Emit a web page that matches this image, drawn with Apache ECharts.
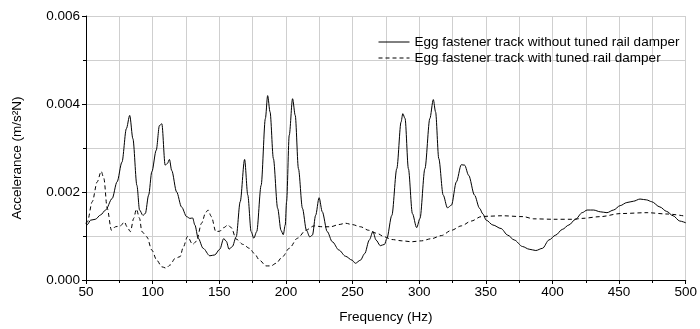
<!DOCTYPE html>
<html>
<head>
<meta charset="utf-8">
<script src="https://cdn.jsdelivr.net/npm/echarts@6/dist/echarts.min.js"></script>
<style>
  html, body { margin: 0; padding: 0; background: #fff; }
  #chart { width: 700px; height: 329px; }
</style>
</head>
<body>
<div id="chart"></div>
<script>
// Frequency response of the rail, with and without the tuned rail damper.
var seriesNames = [
  'Egg fastener track without tuned rail damper',
  'Egg fastener track with tuned rail damper'
];

// Without damper: frequency (Hz) and accelerance (m/s²N)
var freqWithout = [
  50, 51, 53.5, 57, 61, 64.7, 69.6, 73.3, 77, 80.3, 82.8, 85.2, 88.2, 90.2, 92.7, 94.5,
  97, 99.4, 102.7, 105.1, 106.9, 109.4, 111.1, 112.6, 114.3, 118, 121.7, 125.5, 128, 130,
  131.7, 134.2, 137.9, 142.9, 146.6, 150.4, 153.3, 155.3, 157.3, 159.8, 162.7, 165.7, 169,
  171.4, 173.9, 175.9, 178.1, 181.4, 184.6, 186.3, 188.1, 190.6, 193.8, 196.3, 198, 199.5,
  200.5, 202.5, 205, 207, 209.4, 212.4, 215.4, 217.9, 219.9, 222.3, 224.9, 227.3, 231,
  234.8, 239.8, 244.7, 249.7, 252.1, 255.9, 259.1, 262.6, 265.3, 267.6, 270.8, 274, 275.7,
  279.5, 283.2, 286.4, 287.7, 289.4, 291.9, 294.9, 298.1, 300.6, 304.3, 308, 310.6, 312.3,
  314.7, 318, 321.2, 324.2, 327.9, 331.6, 334.1, 337.1, 341.5, 345.3, 347.8, 350.3, 355.3,
  361.4, 366.4, 371.3, 377.6, 382.5, 387.5, 392.5, 397.4, 402.4, 407.4, 412.3, 417.3, 422.3,
  426, 430.9, 435.9, 440.9, 445.8, 450.8, 455.8, 460.7, 465.7, 470.7, 474.4, 480.6, 485.6,
  490.5, 495.5, 500
];
var accelWithout = [
  0.00130, 0.00126, 0.00136, 0.00138, 0.00148, 0.00159, 0.00185, 0.00223, 0.00268, 0.00344,
  0.00374, 0.00321, 0.00215, 0.00159, 0.00147, 0.00151, 0.00193, 0.00246, 0.00295, 0.00351,
  0.00355, 0.00261, 0.00265, 0.00274, 0.00249, 0.00200, 0.00166, 0.00144, 0.00140, 0.00141,
  0.00125, 0.00095, 0.00072, 0.00055, 0.00057, 0.00070, 0.00094, 0.00088, 0.00070, 0.00076,
  0.00098, 0.00178, 0.00274, 0.00193, 0.00110, 0.00095, 0.00110, 0.00215, 0.00367, 0.00419,
  0.00382, 0.00276, 0.00163, 0.00113, 0.00103, 0.00125, 0.00178, 0.00329, 0.00412, 0.00374,
  0.00253, 0.00163, 0.00113, 0.00098, 0.00102, 0.00147, 0.00187, 0.00155, 0.00110, 0.00087,
  0.00068, 0.00054, 0.00045, 0.00038, 0.00045, 0.00060, 0.00091, 0.00110, 0.00091, 0.00078,
  0.00081, 0.00094, 0.00147, 0.00253, 0.00359, 0.00378, 0.00367, 0.00253, 0.00151, 0.00119,
  0.00140, 0.00253, 0.00367, 0.00410, 0.00382, 0.00276, 0.00193, 0.00164, 0.00170, 0.00223,
  0.00262, 0.00261, 0.00238, 0.00193, 0.00163, 0.00150, 0.00136, 0.00125, 0.00117, 0.00102,
  0.00091, 0.00076, 0.00070, 0.00067, 0.00072, 0.00091, 0.00102, 0.00115, 0.00125, 0.00138,
  0.00153, 0.00159, 0.00159, 0.00155, 0.00153, 0.00159, 0.00169, 0.00176, 0.00179, 0.00184,
  0.00182, 0.00178, 0.00166, 0.00156, 0.00146, 0.00134, 0.00130
];

// With damper
var freqWith = [
  50, 51, 54.7, 58.4, 61.4, 63.4, 65.9, 69.1, 72.1, 75.8, 78.8, 80.8, 83.3, 85.8, 87.8,
  90.2, 91.9, 95.7, 99.4, 103.1, 106.9, 110.1, 113.1, 116.8, 120.6, 123, 126.2, 130, 132.9,
  136.7, 139.9, 141.6, 144.1, 147.4, 150.4, 153.3, 156.5, 159, 162.7, 167.7, 172.7, 176.4,
  180.2, 185.1, 188.8, 192.6, 197.5, 202.5, 208.7, 214.9, 221.1, 227.3, 233.5, 239.8, 244.7,
  249.7, 255.9, 262.1, 268.3, 274, 279.5, 287, 294.4, 301.8, 309.3, 316.7, 324.2, 331.6,
  339.1, 346.5, 352, 362, 378, 386, 401, 416, 422, 436, 451, 471, 486, 500
];
var accelWith = [
  0.00128, 0.00132, 0.00178, 0.00223, 0.00247, 0.00231, 0.00163, 0.00113, 0.00121, 0.00123,
  0.00132, 0.00121, 0.00110, 0.00140, 0.00161, 0.00140, 0.00110, 0.00098, 0.00068, 0.00045,
  0.00030, 0.00027, 0.00034, 0.00049, 0.00053, 0.00075, 0.00099, 0.00081, 0.00088, 0.00129,
  0.00154, 0.00159, 0.00144, 0.00110, 0.00111, 0.00119, 0.00125, 0.00119, 0.00093, 0.00081,
  0.00072, 0.00060, 0.00045, 0.00032, 0.00032, 0.00038, 0.00053, 0.00072, 0.00095, 0.00113,
  0.00123, 0.00121, 0.00121, 0.00126, 0.00129, 0.00126, 0.00121, 0.00113, 0.00106, 0.00098,
  0.00092, 0.00089, 0.00087, 0.00089, 0.00094, 0.00101, 0.00113, 0.00123, 0.00134, 0.00144,
  0.00145, 0.00146, 0.00144, 0.00139, 0.00138, 0.00138, 0.00140, 0.00144, 0.00151, 0.00153,
  0.00150, 0.00145
];

function pairs(xs, ys) {
  return xs.map(function (x, i) { return [x, ys[i]]; });
}

var FONT = '"Liberation Sans", Arial, sans-serif';
var gridLine = { show: true, lineStyle: { color: '#cfcfcf', width: 1 } };
var DASH = [4, 3];

var chart = echarts.init(document.getElementById('chart'), null, { renderer: 'canvas' });
chart.setOption({
  animation: false,
  backgroundColor: '#ffffff',
  textStyle: { fontFamily: FONT },
  grid: { left: 86, right: 10, top: 16, bottom: 49, containLabel: false },
  legend: {
    orient: 'vertical',
    left: 378,
    top: 35,
    padding: 0,
    itemGap: 2,
    itemWidth: 31,
    itemHeight: 14,
    itemStyle: { opacity: 0 },
    lineStyle: { width: 1 },
    textStyle: { fontFamily: FONT, fontSize: 13.5, color: '#000' },
    data: seriesNames
  },
  xAxis: {
    type: 'value',
    min: 50,
    max: 500,
    interval: 50,
    name: 'Frequency (Hz)',
    nameLocation: 'middle',
    nameGap: 30,
    nameTextStyle: { fontFamily: FONT, fontSize: 13.5, color: '#000' },
    axisLine: { show: true, lineStyle: { color: '#000', width: 1 } },
    axisTick: { show: true, length: 4, lineStyle: { color: '#000' } },
    minorTick: { show: true, splitNumber: 2, length: 3, lineStyle: { color: '#000' } },
    axisLabel: { fontFamily: FONT, fontSize: 13.5, color: '#000', margin: 5 },
    splitLine: gridLine,
    minorSplitLine: gridLine
  },
  yAxis: {
    type: 'value',
    min: 0,
    max: 0.006,
    interval: 0.002,
    name: 'Accelerance (m/s²N)',
    nameLocation: 'middle',
    nameGap: 62,
    nameTextStyle: { fontFamily: FONT, fontSize: 13.5, color: '#000', padding: [0, 20, 0, 0] },
    axisLine: { show: true, lineStyle: { color: '#000', width: 1 } },
    axisTick: { show: true, length: 4, lineStyle: { color: '#000' } },
    minorTick: { show: true, splitNumber: 2, length: 3, lineStyle: { color: '#000' } },
    axisLabel: {
      fontFamily: FONT, fontSize: 13.5, color: '#000', margin: 6,
      formatter: function (v) { return v.toFixed(3); }
    },
    splitLine: gridLine,
    minorSplitLine: gridLine
  },
  series: [
    {
      name: seriesNames[0],
      type: 'line',
      data: pairs(freqWithout, accelWithout),
      symbol: 'none',
      smooth: 0.3,
      smoothMonotone: 'x',
      color: '#000',
      lineStyle: { color: '#000', width: 1, type: 'solid' }
    },
    {
      name: seriesNames[1],
      type: 'line',
      data: pairs(freqWith, accelWith),
      symbol: 'none',
      smooth: 0.3,
      smoothMonotone: 'x',
      color: '#000',
      lineStyle: { color: '#000', width: 1, type: DASH }
    }
  ]
});
</script>
</body>
</html>
